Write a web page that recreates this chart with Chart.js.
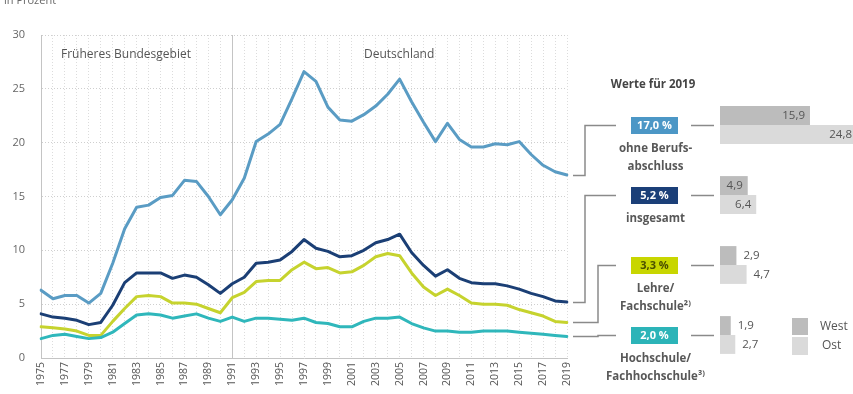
<!DOCTYPE html>
<html>
<head>
<meta charset="utf-8">
<script src="https://cdn.jsdelivr.net/npm/chart.js@4/dist/chart.umd.min.js"></script>
<style>
  html, body { margin: 0; padding: 0; background: #fff; }
  #wrap { position: relative; width: 853px; height: 394px; overflow: hidden; }
  #lineChart { position: absolute; left: 0; top: 0; }
  #barChart { position: absolute; left: 720px; top: 90px; }
</style>
</head>
<body>
<div id="wrap">
  <canvas id="lineChart" width="853" height="394"></canvas>
  <canvas id="barChart" width="133" height="280"></canvas>
</div>
<script>
// years on the x axis
const years = [
  "1975","1976","1977","1978","1979","1980","1981","1982","1983","1984",
  "1985","1986","1987","1988","1989","1990","1991","1992","1993","1994",
  "1995","1996","1997","1998","1999","2000","2001","2002","2003","2004",
  "2005","2006","2007","2008","2009","2010","2011","2012","2013","2014",
  "2015","2016","2017","2018","2019"
];

// Arbeitslosenquote nach Qualifikation, in Prozent
const ohneBerufsabschluss = [
  6.3, 5.5, 5.8, 5.8, 5.1, 6.0, 8.8, 12.0, 14.0, 14.2,
  14.9, 15.1, 16.5, 16.4, 15.0, 13.3, 14.7, 16.7, 20.1, 20.8,
  21.7, 24.1, 26.6, 25.7, 23.3, 22.1, 22.0, 22.6, 23.4, 24.5,
  25.9, 23.8, 21.9, 20.1, 21.8, 20.3, 19.6, 19.6, 19.9, 19.8,
  20.1, 18.9, 17.9, 17.3, 17.0
];
const insgesamt = [
  4.1, 3.8, 3.7, 3.5, 3.1, 3.3, 4.9, 7.0, 7.9, 7.9,
  7.9, 7.4, 7.7, 7.5, 6.8, 6.0, 6.9, 7.5, 8.8, 8.9,
  9.1, 9.9, 11.0, 10.2, 9.9, 9.4, 9.5, 10.0, 10.7, 11.0,
  11.5, 9.8, 8.6, 7.6, 8.2, 7.4, 7.0, 6.9, 6.9, 6.7,
  6.4, 6.0, 5.7, 5.3, 5.2
];
const lehreFachschule = [
  2.9, 2.8, 2.7, 2.5, 2.1, 2.1, 3.4, 4.6, 5.7, 5.8,
  5.7, 5.1, 5.1, 5.0, 4.6, 4.2, 5.6, 6.1, 7.1, 7.2,
  7.2, 8.2, 8.9, 8.3, 8.4, 7.9, 8.0, 8.6, 9.4, 9.7,
  9.5, 7.9, 6.6, 5.8, 6.4, 5.8, 5.1, 5.0, 5.0, 4.9,
  4.5, 4.2, 3.9, 3.4, 3.3
];
const hochschule = [
  1.8, 2.1, 2.2, 2.0, 1.8, 1.9, 2.4, 3.2, 4.0, 4.1,
  4.0, 3.7, 3.9, 4.1, 3.7, 3.4, 3.8, 3.4, 3.7, 3.7,
  3.6, 3.5, 3.7, 3.3, 3.2, 2.9, 2.9, 3.4, 3.7, 3.7,
  3.8, 3.2, 2.8, 2.5, 2.5, 2.4, 2.4, 2.5, 2.5, 2.5,
  2.4, 2.3, 2.2, 2.1, 2.0
];

// Werte für 2019
const groupLines = [["ohne Berufs-", "abschluss"], ["insgesamt"], ["Lehre/", "Fachschule²⁾"], ["Hochschule/", "Fachhochschule³⁾"]];
const groupNames = ["ohne Berufsabschluss", "insgesamt", "Lehre/Fachschule", "Hochschule/Fachhochschule"];
const total2019 = [17.0, 5.2, 3.3, 2.0];
const west2019 = [15.9, 4.9, 2.9, 1.9];
const ost2019 = [24.8, 6.4, 4.7, 2.7];

const yTicks = [0, 5, 10, 15, 20, 25, 30];

const colors = ["#5a9cc4", "#1b3f75", "#c6d32e", "#2fb7bb"];
const boxColors = ["#4c97c6", "#1b3f78", "#c8d600", "#2cb4b8"];
const boxText = ["#ffffff", "#ffffff", "#4a4f00", "#ffffff"];
const westColor = "#bcbcbc";
const ostColor = "#dadada";

Chart.defaults.font.family = "'Open Sans', 'DejaVu Sans', sans-serif";
Chart.defaults.color = "#666";

function fmt(v) {
  return v.toFixed(1).replace(".", ",");
}

const lineDecor = {
  id: "lineDecor",
  beforeDatasetsDraw(chart) {
    const { ctx, chartArea, scales } = chart;
    const x91 = scales.x.getPixelForValue(years.indexOf("1991"));
    ctx.save();
    ctx.strokeStyle = "#c4c4c4";
    ctx.lineWidth = 1;
    ctx.beginPath();
    ctx.moveTo(Math.round(x91) + 0.5, chartArea.top);
    ctx.lineTo(Math.round(x91) + 0.5, chartArea.bottom);
    ctx.stroke();

    ctx.fillStyle = "#555";
    ctx.font = "12px 'Open Sans', sans-serif";
    ctx.textBaseline = "middle";
    ctx.textAlign = "left";
    ctx.fillText("Früheres Bundesgebiet", 61, 55);
    ctx.fillText("Deutschland", 364, 55);

    ctx.fillStyle = "#666";
    ctx.font = "11px 'Open Sans', sans-serif";
    ctx.textBaseline = "bottom";
    ctx.fillText("in Prozent", 4, 6);
    ctx.restore();
  },
  afterDraw(chart) {
    const { ctx, scales, chartArea } = chart;
    ctx.save();

    ctx.fillStyle = "#444";
    ctx.font = "bold 11.5px 'Open Sans', sans-serif";
    ctx.textAlign = "center";
    ctx.textBaseline = "middle";
    ctx.fillText("Werte für 2019", 653, 85);

    const bracketX = [585, 585, 598, 598];
    const boxL = 631, boxR = 678, boxH = 17;
    const cx = (boxL + boxR) / 2;

    total2019.forEach((v, i) => {
      const yEnd = Math.round(scales.y.getPixelForValue(v)) + 0.5;
      const boxY = 125.5 + 70 * i;

      ctx.strokeStyle = "#8a8a8a";
      ctx.lineWidth = 1.5;
      ctx.beginPath();
      ctx.moveTo(chartArea.right + 6, yEnd);
      ctx.lineTo(bracketX[i], yEnd);
      ctx.lineTo(bracketX[i], boxY);
      ctx.lineTo(boxL - 15, boxY);
      ctx.stroke();

      ctx.beginPath();
      ctx.moveTo(boxR + 13, boxY);
      ctx.lineTo(714, boxY);
      ctx.stroke();

      ctx.fillStyle = boxColors[i];
      ctx.fillRect(boxL, boxY - boxH / 2, boxR - boxL, boxH);
      ctx.fillStyle = boxText[i];
      ctx.font = "bold 11px 'Open Sans', sans-serif";
      ctx.fillText(fmt(v) + " %", cx, boxY + 0.5);

      ctx.fillStyle = "#585858";
      ctx.font = "bold 11.5px 'Open Sans', sans-serif";
      groupLines[i].forEach((t, k) => {
        ctx.fillText(t, cx + 1, boxY + 23 + k * 18);
      });
    });

    // legend West / Ost
    ctx.fillStyle = westColor;
    ctx.fillRect(792, 318, 16, 17);
    ctx.fillStyle = ostColor;
    ctx.fillRect(792, 337, 16, 18);
    ctx.fillStyle = "#555";
    ctx.font = "12px 'Open Sans', sans-serif";
    ctx.textAlign = "left";
    ctx.fillText("West", 820, 327);
    ctx.fillText("Ost", 822, 346);
    ctx.restore();
  }
};

new Chart(document.getElementById("lineChart"), {
  type: "line",
  data: {
    labels: years,
    datasets: [
      { label: "ohne Berufsabschluss", data: ohneBerufsabschluss, borderColor: colors[0], order: 3 },
      { label: "insgesamt", data: insgesamt, borderColor: colors[1], order: 2 },
      { label: "Lehre/Fachschule", data: lehreFachschule, borderColor: colors[2], order: 1 },
      { label: "Hochschule/Fachhochschule", data: hochschule, borderColor: colors[3], order: 0 }
    ]
  },
  options: {
    responsive: false,
    animation: false,
    layout: { padding: { top: 35, right: 286, left: 0, bottom: 0 } },
    elements: {
      line: { borderWidth: 3, tension: 0, borderJoinStyle: "round", borderCapStyle: "round" },
      point: { radius: 0 }
    },
    plugins: { legend: { display: false }, tooltip: { enabled: false } },
    scales: {
      x: {
        offset: false,
        grid: { color: "#dcdcdc", drawTicks: false },
        border: { display: true, color: "#c4c4c4", width: 1, dash: [1, 2] },
        ticks: {
          autoSkip: false,
          minRotation: 90,
          maxRotation: 90,
          padding: 4,
          font: { size: 10.5 },
          color: "#555",
          callback: (v, i) => (i % 2 === 0 ? years[i] : "")
        },
        afterFit: (s) => { s.height = 36; }
      },
      y: {
        min: yTicks[0],
        max: yTicks[yTicks.length - 1],
        afterBuildTicks: (s) => { s.ticks = yTicks.map((v) => ({ value: v })); },
        grid: { color: "#cfcfcf", drawTicks: false },
        border: { display: true, color: "#c4c4c4", width: 1, dash: [1, 2] },
        ticks: { padding: 16, font: { size: 11 }, color: "#666" },
        afterFit: (s) => { s.width = 41; }
      }
    }
  },
  plugins: [lineDecor]
});

const barLabels = {
  id: "barLabels",
  afterDatasetsDraw(chart) {
    const { ctx, chartArea } = chart;
    ctx.save();
    ctx.fillStyle = "#555";
    ctx.font = "11.5px 'Open Sans', sans-serif";
    ctx.textBaseline = "middle";
    chart.data.datasets.forEach((ds, di) => {
      chart.getDatasetMeta(di).data.forEach((bar, i) => {
        const txt = fmt(ds.data[i]);
        const w = bar.x - bar.base;
        if (w > 27) {
          ctx.textAlign = "right";
          const xr = Math.min(bar.x - 5, chartArea.right - 1);
          ctx.fillText(txt, xr, bar.y + 0.5);
        } else {
          ctx.textAlign = "left";
          ctx.fillText(txt, bar.x + 7, bar.y + 0.5);
        }
      });
    });
    ctx.restore();
  }
};

new Chart(document.getElementById("barChart"), {
  type: "bar",
  data: {
    labels: groupNames,
    datasets: [
      { label: "West", data: west2019, backgroundColor: westColor, categoryPercentage: 0.54, barPercentage: 1 },
      { label: "Ost", data: ost2019, backgroundColor: ostColor, categoryPercentage: 0.54, barPercentage: 1 }
    ]
  },
  options: {
    indexAxis: "y",
    responsive: false,
    animation: false,
    layout: { padding: 0 },
    plugins: { legend: { display: false }, tooltip: { enabled: false } },
    scales: {
      x: { display: false, min: 0, max: 23.5 },
      y: { display: false }
    }
  },
  plugins: [barLabels]
});
</script>
</body>
</html>
